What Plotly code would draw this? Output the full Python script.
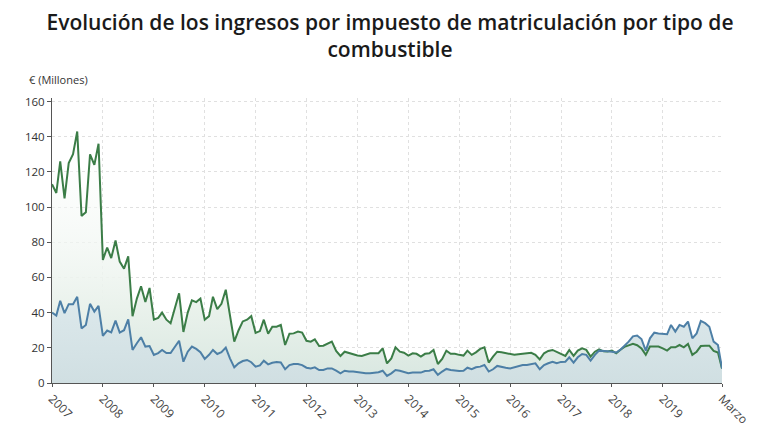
import plotly.graph_objects as go
import pandas as pd

# Monthly data, Jan 2007 - Mar 2020 (million €)
diesel = [113, 108, 126, 105, 125, 130, 143, 95, 97, 130, 124, 136,
          70, 77, 71, 81, 69, 65, 72, 38, 48, 55, 46, 54,
          36, 37, 40, 36, 34, 42, 51, 29, 40, 47, 46, 48,
          36, 38, 49, 42, 45, 53, 38, 23.5, 30, 35, 36, 38,
          28.5, 29.5, 36, 28, 32, 32, 33, 21.6, 28, 28.2, 29.2, 28.7,
          24, 23.5, 24.8, 21, 21.2, 22.6, 23.5, 18.2, 15.4, 17.8, 17, 16.6,
          15.6, 15.4, 16, 16.9, 16.9, 16.9, 19.7, 11.1, 14, 20.3, 17.8, 17.2,
          15.6, 16.9, 16.6, 15, 16.6, 16.9, 18.8, 10.8, 13.7, 18.4, 16.6, 16.6,
          16, 15.6, 18.4, 16, 17.4, 19.4, 20.3, 11.6, 15, 17.8, 17.5, 16.9,
          16.3, 16, 16.3, 16.5, 17, 17.2, 16, 13.4, 16.9, 18.2, 18.8, 17.6,
          16.8, 15.4, 18.8, 15.4, 18.4, 19.7, 18.8, 15, 17.8, 19.1, 18, 17.9,
          18.4, 16.9, 18.8, 20.5, 21.4, 22.3, 21.5, 19.7, 16, 20.7, 20.7, 20.7,
          19.7, 18.4, 20.3, 20.3, 21.6, 20.3, 22.2, 16, 17.8, 21, 21.2, 21.2,
          18.2, 17.3, 8.3]

gasolina = [40, 38.3, 46.7, 39.7, 44.8, 44.8, 49, 31, 33, 45, 40.6, 43.8,
            26.8, 29.8, 28.8, 35.5, 28.7, 30, 36.2, 18.8, 22.6, 26, 20.7, 21,
            16, 17, 18.8, 17, 17, 20.7, 24, 12.1, 17.8, 20.7, 19.4, 17.5,
            13.7, 16, 18.8, 16.5, 17.5, 20.1, 14, 8.9, 11.2, 12.5, 13.1, 11.8,
            9.3, 10, 12.7, 10.6, 11.5, 11.9, 11.7, 7.8, 10.2, 10.8, 10.8, 10.2,
            8.7, 8.3, 8.9, 7.4, 7.4, 8.3, 8.3, 7, 5.5, 7, 6.5, 6.5,
            6.1, 5.5, 5.5, 5.5, 5.9, 6.1, 7, 4, 5.5, 7.4, 7, 6.1,
            5.5, 5.9, 6.1, 5.9, 6.8, 7, 7.8, 4.6, 6.5, 8, 7.4, 7,
            6.8, 7, 8.7, 7.8, 8.9, 9.3, 10.2, 6.5, 7.8, 9.7, 9, 8.7,
            8.3, 8.9, 9.7, 10.2, 10.2, 10.7, 11.2, 7.8, 10.2, 11.2, 12.1, 11.2,
            12, 12.1, 14.6, 11.6, 14.6, 16.5, 16, 12.7, 16, 18.4, 18.4, 18,
            17.8, 17.3, 18.8, 21, 23.5, 26.5, 27, 25, 18.4, 25.4, 28.6, 28.2,
            27.9, 27.7, 33, 29.2, 33, 32, 34.9, 25.4, 28.2, 35.3, 34, 32,
            23.5, 21.6, 8.3]

months = pd.date_range("2007-01-01", periods=len(diesel), freq="MS")

tick_vals = list(pd.date_range("2007-01-01", "2019-01-01", freq="YS")) + [pd.Timestamp("2020-03-01")]
tick_text = [str(y) for y in range(2007, 2020)] + ["Marzo"]

green = "#3b7d47"
blue = "#4d7fa6"

fig = go.Figure()
fig.add_trace(go.Scatter(
    x=months, y=diesel, mode="none", fill="tozeroy",
    fillgradient=dict(type="vertical", start=0, stop=145,
                      colorscale=[[0, "#d8e7e0"], [0.3, "#eaf2ec"], [1, "rgba(255,255,255,0.2)"]]),
    showlegend=False, hoverinfo="skip"))
fig.add_trace(go.Scatter(
    x=months, y=gasolina, mode="none", fill="tozeroy",
    fillgradient=dict(type="vertical", start=0, stop=50,
                      colorscale=[[0, "#d0dfe2"], [1, "#dde9ec"]]),
    showlegend=False, hoverinfo="skip"))
fig.add_trace(go.Scatter(x=months, y=diesel, mode="lines", name="Diésel",
                         line=dict(color=green, width=2), showlegend=False))
fig.add_trace(go.Scatter(x=months, y=gasolina, mode="lines", name="Gasolina",
                         line=dict(color=blue, width=2), showlegend=False))

fig.update_layout(
    width=780, height=440,
    margin=dict(l=52, r=58, t=98, b=57),
    paper_bgcolor="white", plot_bgcolor="white",
    font=dict(family="Open Sans", color="#333", size=11),
    title=dict(text="Evolución de los ingresos por impuesto de matriculación por tipo de<br>combustible",
               x=0.5, xanchor="center", yref="container", y=1 - 30 / 440, yanchor="middle",
               font=dict(family="Open Sans", size=21, color="#1a1a1a", weight=600)),
    xaxis=dict(range=[months[0], months[-1]], tickvals=tick_vals, ticktext=tick_text,
               tickangle=45, showgrid=True, gridcolor="#e0e0e0", griddash="dot",
               showline=True, linecolor="#555", linewidth=1,
               ticks="outside", ticklen=3, tickcolor="#555",
               tickfont=dict(size=12, color="#444"), zeroline=False),
    yaxis=dict(range=[0, 162], tickvals=[0, 20, 40, 60, 80, 100, 120, 140, 160],
               showgrid=True, gridcolor="#e0e0e0", griddash="dot",
               showline=True, linecolor="#555", linewidth=1,
               ticks="outside", ticklen=4, tickcolor="#555",
               tickfont=dict(size=11.5, color="#333"), zeroline=False),
    annotations=[dict(text="€ (Millones)", xref="paper", yref="paper",
                      x=-0.037, y=1.065, xanchor="left", yanchor="middle",
                      showarrow=False, font=dict(size=11, color="#333"))],
)

fig.write_html("out.html")
